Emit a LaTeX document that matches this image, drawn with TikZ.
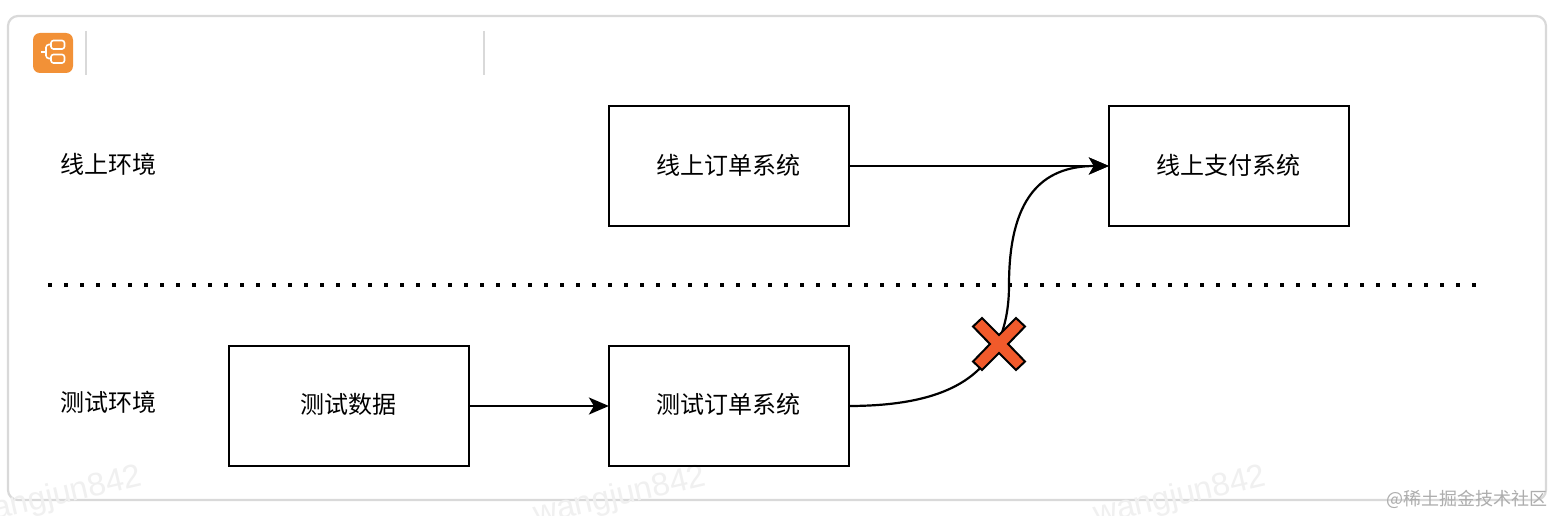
\documentclass[tikz,border=0pt]{standalone}
\usepackage{fontspec}
\setmainfont{Noto Sans CJK SC}
\newfontfamily\wmfont{Liberation Sans}
\usetikzlibrary{arrows.meta}
\definecolor{frameg}{HTML}{D9D9D9}
\definecolor{iconor}{HTML}{F29137}
\definecolor{crossr}{HTML}{F15A2B}
\tikzset{
  box/.style={draw=black,line width=2.2pt,minimum width=240pt,minimum height=120pt,inner sep=0pt},
  boxtext/.style={inner sep=0pt,font=\fontsize{24pt}{28pt}\selectfont},
  lbl/.style={inner sep=0pt,font=\fontsize{24pt}{28pt}\selectfont},
  conn/.style={draw=black,line width=2.2pt,-{Stealth[length=20pt,width=17pt,inset=5pt]}},
  wm/.style={inner sep=0pt,text=black!6,rotate=13,font=\wmfont\fontsize{32.5pt}{36pt}\selectfont},
  sep/.style={draw=frameg,line width=2pt},
  icn/.style={draw=white,line width=1.6pt,rounded corners=2.5pt}
}
\begin{document}
\begin{tikzpicture}[x=1pt,y=-1pt]
\useasboundingbox (0,0) rectangle (1554,516);
\fill[white] (0,0) rectangle (1554,516);
\draw[frameg,line width=2.2pt,rounded corners=10pt] (8,16) rectangle (1546,500);
\node[wm] (w1) at (56,497) {wangjun842};
\node[wm] (w2) at (620,497) {wangjun842};
\node[wm] (w3) at (1180,497) {wangjun842};
\fill[iconor,rounded corners=7pt] (33,33) rectangle (73,73);
\draw[icn] (51,40.5) rectangle (64.5,49);
\draw[icn] (51,54.5) rectangle (64.5,63);
\draw[draw=white,line width=1.6pt,rounded corners=3pt] (51,44.5) -- (46,44.5) -- (46,58.5) -- (51,58.5);
\draw[draw=white,line width=1.6pt] (41,52) -- (46,52);
\draw[sep] (86,31) -- (86,75);
\draw[sep] (484,31) -- (484,75);
\node[lbl] (l1) at (108,164.5) {线上环境};
\node[lbl] (l2) at (108,402.5) {测试环境};
\node[box] (a) at (729,166) {};
\node[box] (b) at (1229,166) {};
\node[box] (c) at (349,406) {};
\node[box] (d) at (729,406) {};
\node[boxtext] (at) at (728.5,165) {线上订单系统};
\node[boxtext] (bt) at (1228.5,165) {线上支付系统};
\node[boxtext] (ct) at (348.5,404.5) {测试数据};
\node[boxtext] (dt) at (728.5,404.5) {测试订单系统};
\draw[black,line width=4pt,dash pattern=on 4pt off 12pt] (48,285) -- (1480,285);
\draw[conn] (a.east) -- ([xshift=1pt]b.west);
\draw[conn] (c.east) -- ([xshift=1pt]d.west);
\draw[conn] (d.east) .. controls (950,405.5) and (1009,375) .. (1009,285) .. controls (1009,200) and (1040,166) .. ([xshift=1pt]b.west);
\coordinate (xc) at (999,344);
\filldraw[fill=crossr,draw=black,line width=2pt,line join=miter,shift={(xc)}]
 (0,-9) -- (17,-26) -- (26,-17.5) -- (9,0) -- (26,17.5) -- (17,26) -- (0,9) -- (-17,26) -- (-26,17.5) -- (-9,0) -- (-26,-17.5) -- (-17,-26) -- cycle;
\node[inner sep=0pt,anchor=east,text=black!32,font=\fontsize{18pt}{20pt}\selectfont] (jj) at (1548,499) {@稀土掘金技术社区};
\end{tikzpicture}
\end{document}
